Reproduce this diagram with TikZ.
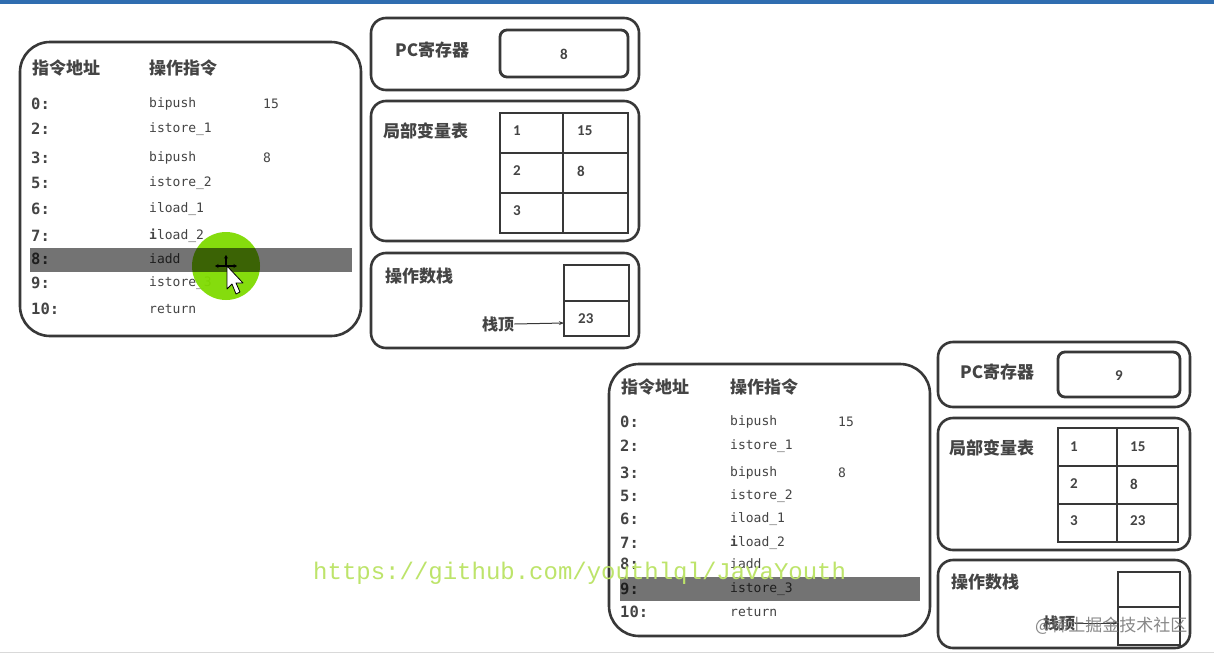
\documentclass[tikz,border=0pt]{standalone}
\usepackage{fontspec}
\setmonofont{DejaVu Sans Mono}
\setsansfont{Carlito}
\newfontfamily\cjk{Noto Sans CJK SC}
\newfontfamily\urlfont{Liberation Mono}
\usetikzlibrary{arrows.meta}
\definecolor{ln}{HTML}{383838}
\definecolor{tx}{HTML}{444444}
\definecolor{urlg}{HTML}{BDE46A}
\definecolor{hlg}{HTML}{7FDB00}
\definecolor{topbar}{HTML}{2F6DB0}
\tikzset{
  panel/.style={draw=ln,line width=2.6pt,rounded corners=15pt},
  prog/.style={draw=ln,line width=2.6pt,rounded corners=30pt},
  pcbox/.style={draw=ln,line width=2.8pt,rounded corners=7pt},
  cell/.style={draw=ln,line width=1.3pt},
  cn/.style={font=\cjk\bfseries\fontsize{17}{20}\selectfont,text=tx,inner sep=0pt,anchor=west},
  addr/.style={font=\ttfamily\bfseries\fontsize{15.5}{18}\selectfont,text=tx,inner sep=0pt,anchor=west},
  code/.style={font=\ttfamily\fontsize{13}{15}\selectfont,text=tx,inner sep=0pt,anchor=west},
  num/.style={font=\sffamily\bfseries\fontsize{15}{17}\selectfont,text=tx,inner sep=0pt,anchor=west},
  bar/.style={fill=black,fill opacity=0.55,draw=none},
  mv/.style={black,line width=1.1pt,-{Stealth[length=3.5pt,width=4pt]}},
}
\begin{document}
\begin{tikzpicture}[x=1pt,y=-1pt]
\useasboundingbox (0,0) rectangle (1214,656);
\fill[white] (0,0) rectangle (1214,656);
\fill[topbar] (0,0) rectangle (1214,3.5);
\draw[black!15,line width=1pt] (0,652) -- (1214,652);

% ================= TOP LEFT PROGRAM =================
\draw[prog] (20,42) rectangle (361,336);
\node[cn] (th1) at (32,68) {指令地址};
\node[cn] (th2) at (149,68) {操作指令};
\foreach \a/\c/\y in {0/bipush/104,2/istore\_1/129,3/bipush/158,5/istore\_2/183,6/iload\_1/209,7/{\textbf{i}load\_2}/236,8/iadd/259,9/istore\_3/283,10/return/309}{
  \node[addr] (ta\a) at (31,\y) {\a:};
  \node[code] (tc\a) at (149,\y) {\c};
}
\node[code] (to0) at (263,104) {15};
\node[code] (to3) at (263,158) {8};
\fill[hlg,opacity=0.95] (226,266) circle (34pt);
\fill[bar] (30,248) rectangle (352,272);
% cursor
\draw[mv] (226,266) -- (226,255);
\draw[mv] (226,266) -- (215,266);
\draw[mv] (226,266) -- (237,266);
\draw[black,fill=white,line width=0.8pt,line join=round] (227,266) -- (227,289) -- (232,284) -- (236,294) -- (240,292) -- (236,283) -- (243,283) -- cycle;

% ================= TOP RIGHT PANELS =================
\draw[panel] (371,18) rectangle (639,90);
\node[cn] (pc1) at (395,50) {PC寄存器};
\draw[pcbox] (500,30) rectangle (628,77);
\node[num,anchor=center] (pv1) at (564,54) {8};

\draw[panel] (371,101) rectangle (639,241);
\node[cn] (lv1) at (383,131) {局部变量表};
\draw[cell] (500,113) rectangle (628,233);
\draw[cell] (563,113) -- (563,233);
\draw[cell] (500,153) -- (628,153);
\draw[cell] (500,193) -- (628,193);
\node[num] (l11) at (513,131) {1};
\node[num] (l12) at (577,131) {15};
\node[num] (l21) at (513,171) {2};
\node[num] (l22) at (577,171) {8};
\node[num] (l31) at (513,211) {3};

\draw[panel] (371,253) rectangle (639,348);
\node[cn] (os1) at (385,276) {操作数栈};
\draw[cell] (564,265) rectangle (629,336);
\draw[cell] (564,301) -- (629,301);
\node[num] (sv1) at (578,319) {23};
\node[cn,font=\cjk\bfseries\fontsize{16}{18}\selectfont] (st1) at (482,324) {栈顶};
\coordinate (sc1) at (564,323);
\draw[ln,line width=1pt,-{Stealth[length=5pt]}] (st1.east) -- (sc1);

% ================= BOTTOM PROGRAM =================
\draw[prog] (609,364) rectangle (930,636);
\node[cn] (bh1) at (621,387) {指令地址};
\node[cn] (bh2) at (730,387) {操作指令};
\foreach \a/\c/\y in {0/bipush/422,2/istore\_1/446,3/bipush/473,5/istore\_2/496,6/iload\_1/519,7/{\textbf{i}load\_2}/543,8/iadd/564,9/istore\_3/589,10/return/612}{
  \node[addr] (ba\a) at (620,\y) {\a:};
  \node[code] (bc\a) at (730,\y) {\c};
}
\node[code] (bo0) at (838,422) {15};
\node[code] (bo3) at (838,473) {8};
\fill[bar] (620,577) rectangle (920,601);

% ================= BOTTOM RIGHT PANELS =================
\draw[panel] (938,342) rectangle (1190,407);
\node[cn] (pc2) at (960,372) {PC寄存器};
\draw[pcbox] (1058,352) rectangle (1180,397);
\node[num,anchor=center] (pv2) at (1119,376) {9};

\draw[panel] (938,418) rectangle (1190,550);
\node[cn] (lv2) at (949,448) {局部变量表};
\draw[cell] (1058,428) rectangle (1178,542);
\draw[cell] (1117,428) -- (1117,542);
\draw[cell] (1058,466) -- (1178,466);
\draw[cell] (1058,504) -- (1178,504);
\node[num] (m11) at (1070,447) {1};
\node[num] (m12) at (1130,447) {15};
\node[num] (m21) at (1070,484) {2};
\node[num] (m22) at (1130,484) {8};
\node[num] (m31) at (1070,521) {3};
\node[num] (m32) at (1130,521) {23};

\draw[panel] (938,560) rectangle (1190,648);
\node[cn] (os2) at (951,582) {操作数栈};
\draw[cell] (1118,572) rectangle (1180,645);
\draw[cell] (1118,607) -- (1180,607);
\node[cn,font=\cjk\bfseries\fontsize{16}{18}\selectfont] (st2) at (1043,623) {栈顶};
\coordinate (sc2) at (1118,623);
\draw[ln,line width=1pt,-{Stealth[length=5pt]}] (st2.east) -- (sc2);

% ================= WATERMARKS =================
\node[font=\urlfont\fontsize{24}{26}\selectfont,text=urlg,inner sep=0pt,anchor=west] (url) at (313,573) {https://github.com/youthlql/JavaYouth};
\node[font=\cjk\fontsize{17}{19}\selectfont,text=black!55,inner sep=0pt,anchor=west,opacity=0.85] (wm) at (1035,626) {@稀土掘金技术社区};
\end{tikzpicture}
\end{document}
